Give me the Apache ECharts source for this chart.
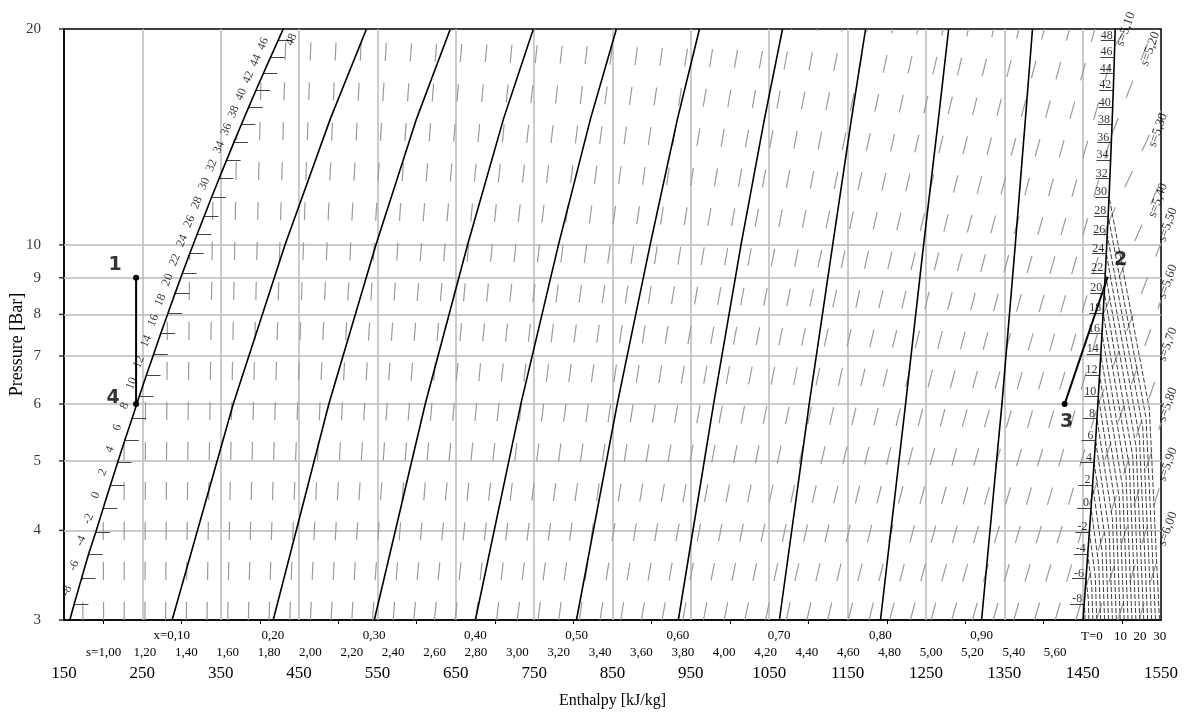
<!DOCTYPE html>
<html>
<head>
<meta charset="utf-8">
<title>NH3 log p-h</title>
<script src="https://cdn.jsdelivr.net/npm/echarts@6/dist/echarts.min.js"></script>
<style>
html, body {margin: 0; padding: 0; background: #fff;}
#main {width: 1187px; height: 716px;}
</style>
</head>
<body>
<div id="main"></div>
<script>
// saturation table (T in C, p in bar, h in kJ/kg)
var satT = [-10, -8, -6, -4, -2, 0, 2, 4, 6, 8, 10, 12, 14, 16, 18, 20, 22, 24, 26, 28, 30, 32, 34, 36, 38, 40, 42, 44, 46, 48, 50];
var satP = [2.908, 3.160, 3.426, 3.709, 3.982, 4.294, 4.625, 4.974, 5.340, 5.724, 6.149, 6.585, 7.043, 7.529, 8.039, 8.574, 9.136, 9.723, 10.34, 10.98, 11.67, 12.38, 13.12, 13.90, 14.71, 15.55, 16.43, 17.34, 18.29, 19.27, 20.33];
var satHf = [154.0, 163.1, 172.3, 181.4, 190.7, 200.0, 209.2, 218.4, 227.6, 236.8, 246.0, 255.2, 264.4, 273.6, 282.8, 292.0, 301.2, 310.4, 319.8, 329.2, 338.6, 348.0, 357.4, 366.8, 376.2, 385.6, 395.0, 404.4, 413.8, 423.2, 432.6];
var satHg = [1449.6, 1452.0, 1454.3, 1456.5, 1458.6, 1460.7, 1462.7, 1464.6, 1466.5, 1468.3, 1470.0, 1471.6, 1473.2, 1474.7, 1476.2, 1477.6, 1478.9, 1480.2, 1481.4, 1482.6, 1483.7, 1484.7, 1485.7, 1486.6, 1487.5, 1488.3, 1489.1, 1489.8, 1490.5, 1491.1, 1491.7];

// vapour quality lines, h read at 3, 6, 10, 15 and 20 bar
var qualityX = [0.1, 0.2, 0.3, 0.4, 0.5, 0.6, 0.7, 0.8, 0.9];
var qualityH3 = [288, 417, 546, 675, 804, 934, 1063, 1192, 1321];
var qualityH6 = [366, 488, 611, 733, 856, 979, 1101, 1224, 1347];
var qualityH10 = [432, 548, 665, 781, 898, 1014, 1131, 1247, 1364];
var qualityH15 = [490, 600, 711, 822, 933, 1044, 1155, 1266, 1377];
var qualityH20 = [536, 643, 749, 855, 961, 1067, 1173, 1279, 1386];

// isentropes in the wet region: start at 3 bar, end on liquid line / top / vapour line
var isenS = [0.9, 1.0, 1.1, 1.2, 1.3, 1.4, 1.5, 1.6, 1.7, 1.8, 1.9, 2.0, 2.1, 2.2, 2.3, 2.4, 2.5, 2.6, 2.7, 2.8, 2.9, 3.0, 3.1, 3.2, 3.3, 3.4, 3.5, 3.6, 3.7, 3.8, 3.9, 4.0, 4.1, 4.2, 4.3, 4.4, 4.5, 4.6, 4.7, 4.8, 4.9, 5.0, 5.1, 5.2, 5.3, 5.4, 5.5, 5.6, 5.7];
var isenStartH = [174.1, 200.5, 226.9, 253.3, 279.7, 306.1, 332.5, 358.9, 385.3, 411.7, 438.1, 464.5, 490.9, 517.3, 543.7, 570.1, 596.5, 622.9, 649.3, 675.7, 702.1, 728.5, 754.9, 781.3, 807.7, 834.1, 860.5, 886.9, 913.3, 939.7, 966.1, 992.5, 1018.9, 1045.3, 1071.7, 1098.1, 1124.5, 1150.9, 1177.3, 1203.7, 1230.1, 1256.5, 1282.9, 1309.3, 1335.7, 1362.1, 1388.5, 1414.9, 1441.3];
var isenEndH = [173.7, 200.0, 226.7, 254.1, 281.9, 310.4, 340.1, 370.5, 401.4, 433.4, 465.7, 497.9, 530.2, 562.4, 594.7, 626.9, 659.2, 691.5, 723.7, 756.0, 788.2, 820.5, 852.7, 885.0, 917.2, 949.5, 981.8, 1014.0, 1046.3, 1078.5, 1110.8, 1143.0, 1175.3, 1207.5, 1239.8, 1272.1, 1304.3, 1336.6, 1368.8, 1401.1, 1433.3, 1465.6, 1490.9, 1487.0, 1482.1, 1476.1, 1469.3, 1461.6, 1453.4];
var isenEndP = [3.47, 4.29, 5.31, 6.53, 7.99, 9.72, 11.78, 14.22, 17.05, 20, 20, 20, 20, 20, 20, 20, 20, 20, 20, 20, 20, 20, 20, 20, 20, 20, 20, 20, 20, 20, 20, 20, 20, 20, 20, 20, 20, 20, 20, 20, 20, 20, 18.94, 14.24, 10.71, 8.0, 5.97, 4.45, 3.32];

// isentropes in the superheated region
var superS = [5.1, 5.2, 5.3, 5.4, 5.5, 5.6, 5.7, 5.8, 5.9, 6.0];
var superStartH = [1490.9, 1487.0, 1482.1, 1476.1, 1469.3, 1461.6, 1453.4, 1467.6, 1495, 1522];
var superStartP = [18.94, 14.24, 10.71, 8.0, 5.97, 4.45, 3.32, 3, 3, 3];
var superEndH = [1505, 1540, 1550, 1550, 1550, 1550, 1550, 1550, 1550, 1550];
var superEndP = [20, 20, 15.4, 12.3, 10.06, 8.38, 6.85, 5.65, 4.66, 3.79];

// isotherms in the superheated region (start on the vapour line)
var isoT = [-8, -6, -4, -2, 0, 2, 4, 6, 8, 10, 12, 14, 16, 18, 20, 22, 24, 26, 28, 30];
var isoBottomH = [1453, 1458, 1463, 1468, 1473, 1478, 1483, 1488, 1493, 1498, 1503, 1508, 1513, 1518, 1523, 1528, 1533, 1538, 1543, 1548];
var isoMidH = [1452.8, 1457.3, 1461.7, 1466.1, 1470.5, 1474.9, 1479.3, 1483.7, 1488.1, 1492.4, 1496.7, 1501.0, 1505.3, 1509.6, 1513.9, 1518.2, 1522.4, 1526.7, 1530.9, 1535.1];
var isoMidP = [3.079, 3.206, 3.336, 3.456, 3.589, 3.725, 3.863, 4.002, 4.144, 4.295, 4.445, 4.597, 4.753, 4.911, 5.072, 5.235, 5.401, 5.570, 5.739, 5.917];

// refrigeration cycle points
var cycleName = ['1', '2', '3', '4'];
var cycleH = [242, 1482, 1427, 242];
var cycleP = [9, 9.03, 6, 6];

// axes
var hTicks = [150, 250, 350, 450, 550, 650, 750, 850, 950, 1050, 1150, 1250, 1350, 1450, 1550];
var hMinorTicks = [200, 300, 400, 500, 600, 700, 800, 900, 1000, 1100, 1200, 1300, 1400, 1500];
var pTicks = [3, 4, 5, 6, 7, 8, 9, 10, 20];
var gridH = [250, 350, 450, 550, 650, 750, 850, 950, 1050, 1150, 1250, 1350, 1450];
var gridP = [4, 5, 6, 7, 8, 9, 10];
var sTicks = [1.0, 1.2, 1.4, 1.6, 1.8, 2.0, 2.2, 2.4, 2.6, 2.8, 3.0, 3.2, 3.4, 3.6, 3.8, 4.0, 4.2, 4.4, 4.6, 4.8, 5.0, 5.2, 5.4, 5.6];
var tTicks = [0, 10, 20, 30];
var sAxisRange = [0.8087, 6.1117];    // s scale printed under the axis (at 3 bar)
var qAxisRange = [-0.00642, 1.07725]; // quality scale at 3 bar
var tAxisRange = [-529.3, 30.7];      // superheat temperature scale at 3 bar

var serif = 'Liberation Serif';
var chart = echarts.init(document.getElementById('main'));

function dec(v) {
    return v.toFixed(2).replace('.', ',');
}

var gridLines = [];
gridH.forEach(function (h) { gridLines.push({coords: [[h, 3], [h, 20]]}); });
gridP.forEach(function (p) { gridLines.push({coords: [[150, p], [1550, p]]}); });

var wetIsen = isenS.map(function (s, i) {
    return {coords: [[isenStartH[i], 3], [isenEndH[i], isenEndP[i]]]};
});
var superIsen = superS.map(function (s, i) {
    return {coords: [[superStartH[i], superStartP[i]], [superEndH[i], superEndP[i]]]};
});
var isoLines = isoT.map(function (t, i) {
    var k = satT.indexOf(t);
    return {coords: [[isoBottomH[i], 3], [isoMidH[i], isoMidP[i]], [satHg[k], satP[k]]]};
});
var qualityLines = qualityX.map(function (q, i) {
    return {coords: [[qualityH3[i], 3], [qualityH6[i], 6], [qualityH10[i], 10], [qualityH15[i], 15], [qualityH20[i], 20]]};
});

var liqTicks = [], vapTicks = [], liqLabels = [], vapLabels = [];
satT.forEach(function (t, i) {
    if (t < -8 || t > 48) return;
    liqTicks.push({coords: [[satHf[i], satP[i]], [satHf[i] + 18, satP[i]]]});
    vapTicks.push({coords: [[satHg[i], satP[i]], [satHg[i] - 18, satP[i]]]});
    liqLabels.push({value: [satHf[i], satP[i]], name: String(t),
        label: t === 48 ? {offset: [6, 12]} : {}});
    vapLabels.push({value: [satHg[i], satP[i]], name: String(t)});
});

var superLabels = superS.map(function (s, i) {
    var inside = i < 4;
    return {
        value: [superEndH[i], superEndP[i]],
        name: 's=' + dec(s),
        label: i === 0 ? {align: 'center', offset: [0, 0]} :
            (inside ? {align: 'right', offset: [-2, 4]} : {align: 'left', offset: [2, 0]})
    };
});

var cycleLabelOffset = [[-21, -13], [13, -17], [2, 18], [-23, -6]];
var cycleLabels = cycleName.map(function (n, i) {
    return {value: [cycleH[i], cycleP[i]], name: n, label: {offset: cycleLabelOffset[i]}};
});

var satLiquid = satHf.map(function (h, i) { return [h, satP[i]]; });
var satVapour = satHg.map(function (h, i) { return [h, satP[i]]; });

var options = {
    animation: false,
    backgroundColor: '#fff',
    grid: {left: 64, right: 26, top: 29, bottom: 96, show: true, borderColor: '#000', borderWidth: 1.5},
    xAxis: [{
        type: 'value', min: 150, max: 1550, position: 'bottom',
        axisLine: {onZero: false, lineStyle: {color: '#000', width: 1.5}},
        axisTick: {customValues: hMinorTicks, length: 4, lineStyle: {color: '#000'}},
        axisLabel: {customValues: hTicks, margin: 45, fontFamily: serif, fontSize: 17, color: '#000',
            formatter: function (v) { return String(v); }},
        splitLine: {show: false},
        name: 'Enthalpy [kJ/kg]', nameLocation: 'middle', nameGap: 73,
        nameTextStyle: {fontFamily: serif, fontSize: 16, color: '#000'}
    }, {
        type: 'value', min: sAxisRange[0], max: sAxisRange[1], position: 'bottom',
        axisLine: {show: false, onZero: false}, axisTick: {show: false}, splitLine: {show: false},
        axisLabel: {customValues: sTicks, margin: 26, fontFamily: serif, fontSize: 13, color: '#000',
            formatter: function (v) { return (Math.abs(v - 1) < 1e-6 ? 's=' : '') + dec(v); }}
    }, {
        type: 'value', min: qAxisRange[0], max: qAxisRange[1], position: 'bottom',
        axisLine: {show: false, onZero: false}, axisTick: {show: false}, splitLine: {show: false},
        axisLabel: {customValues: qualityX, margin: 9, fontFamily: serif, fontSize: 13, color: '#000',
            formatter: function (v) { return (Math.abs(v - 0.1) < 1e-6 ? 'x=' : '') + dec(v); }}
    }, {
        type: 'value', min: tAxisRange[0], max: tAxisRange[1], position: 'bottom',
        axisLine: {show: false, onZero: false}, axisTick: {show: false}, splitLine: {show: false},
        axisLabel: {customValues: tTicks, margin: 10, fontFamily: serif, fontSize: 13, color: '#000',
            formatter: function (v) { return v === 0 ? '{p|T=0}' : String(v); },
            rich: {p: {fontFamily: serif, fontSize: 13, color: '#000', padding: [0, 18, 0, 0]}}}
    }],
    yAxis: {
        type: 'log', logBase: 10, min: 3, max: 20,
        axisLine: {show: true, onZero: false, lineStyle: {color: '#000', width: 1.5}},
        axisTick: {show: false}, axisLabel: {show: false}, splitLine: {show: false},
        name: 'Pressure [Bar]', nameLocation: 'middle', nameGap: 38, nameRotate: 90,
        nameTextStyle: {fontFamily: serif, fontSize: 18, color: '#000', padding: [0, 40, 0, 0]}
    },
    series: [{
        type: 'lines', coordinateSystem: 'cartesian2d', silent: true, z: 1,
        lineStyle: {color: '#bababa', width: 1.5, opacity: 1},
        data: gridLines
    }, {
        type: 'lines', coordinateSystem: 'cartesian2d', silent: true, z: 2,
        lineStyle: {color: '#9a9a9a', width: 1.2, type: [18, 22], opacity: 1},
        data: wetIsen
    }, {
        type: 'lines', coordinateSystem: 'cartesian2d', silent: true, z: 2,
        lineStyle: {color: '#9a9a9a', width: 1.2, type: [18, 22], opacity: 1},
        data: superIsen
    }, {
        type: 'lines', coordinateSystem: 'cartesian2d', polyline: true, silent: true, z: 2,
        lineStyle: {color: '#3c3c3c', width: 1, type: [5, 2], opacity: 1},
        data: isoLines
    }, {
        type: 'lines', coordinateSystem: 'cartesian2d', polyline: true, silent: true, z: 3,
        lineStyle: {color: '#000', width: 1.6, opacity: 1},
        data: qualityLines
    }, {
        type: 'line', data: satLiquid, showSymbol: false, symbol: 'none', z: 4,
        lineStyle: {color: '#000', width: 1.6}
    }, {
        type: 'line', data: satVapour, showSymbol: false, symbol: 'none', z: 4,
        lineStyle: {color: '#000', width: 1.6}
    }, {
        type: 'lines', coordinateSystem: 'cartesian2d', silent: true, z: 4,
        lineStyle: {color: '#444', width: 1, opacity: 1},
        data: liqTicks.concat(vapTicks)
    }, {
        type: 'scatter', data: liqLabels, symbolSize: 0, clip: false, silent: true, z: 5,
        label: {show: true, position: 'inside', formatter: '{b}', rotate: 67, offset: [9, -12],
            fontFamily: serif, fontSize: 12, color: '#000'}
    }, {
        type: 'scatter', data: vapLabels, symbolSize: 0, clip: false, silent: true, z: 5,
        label: {show: true, position: 'inside', formatter: '{b}', align: 'right', verticalAlign: 'bottom',
            offset: [-2, 1], fontFamily: serif, fontSize: 12, color: '#000'}
    }, {
        type: 'scatter', data: superLabels, symbolSize: 0, clip: false, silent: true, z: 5,
        label: {show: true, position: 'inside', formatter: '{b}', rotate: 70, verticalAlign: 'middle',
            fontFamily: serif, fontSize: 13, color: '#000'}
    }, {
        type: 'line', z: 6, symbol: 'circle', symbolSize: 6,
        itemStyle: {color: '#000'}, lineStyle: {color: '#000', width: 2},
        data: [[cycleH[0], cycleP[0]], [cycleH[3], cycleP[3]]]
    }, {
        type: 'line', z: 6, symbolSize: 6,
        itemStyle: {color: '#000'}, lineStyle: {color: '#000', width: 2},
        data: [{value: [cycleH[2], cycleP[2]], symbol: 'circle'}, {value: [cycleH[1], cycleP[1]], symbol: 'none'}]
    }, {
        type: 'scatter', data: cycleLabels, symbolSize: 0, clip: false, silent: true, z: 7,
        label: {show: true, position: 'inside', formatter: '{b}', fontFamily: 'DejaVu Sans',
            fontWeight: 'bold', fontSize: 19, color: '#000'}
    }, {
        type: 'scatter', clip: false, silent: true, z: 5,
        data: pTicks.map(function (p) { return [150, p]; }),
        symbol: 'rect', symbolSize: [5, 1.5], symbolOffset: [-2.5, 0],
        itemStyle: {color: '#000'},
        label: {show: true, position: 'left', distance: 18, fontFamily: serif, fontSize: 15, color: '#000',
            formatter: function (params) { return String(params.value[1]); }}
    }]
};

chart.setOption(options);
</script>
</body>
</html>
